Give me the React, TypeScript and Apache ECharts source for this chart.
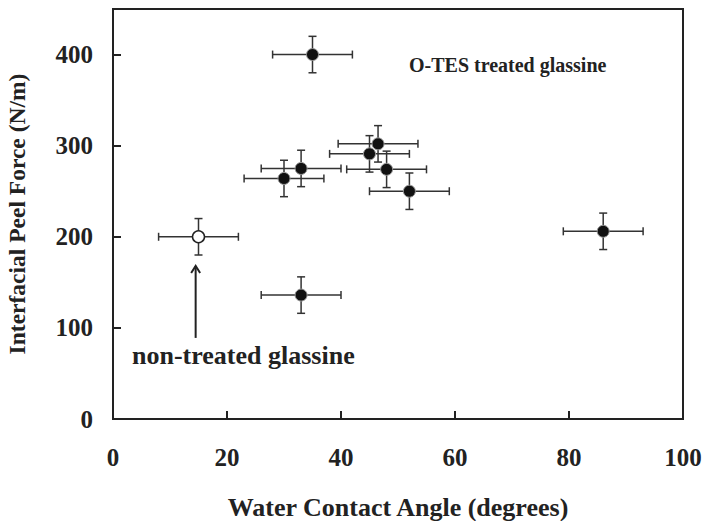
import React, { useEffect, useRef } from "react";
import * as echarts from "echarts";

const FONT = '"Liberation Serif", "Times New Roman", serif';

// O-TES treated glassine
const treatedAngle = [35, 46.5, 45, 48, 33, 30, 52, 86, 33];
const treatedForce = [400, 302, 291, 274, 275, 264, 250, 206, 136];
const treatedAngleErr = [7, 7, 7, 7, 7, 7, 7, 7, 7];
const treatedForceErr = [20, 20, 20, 20, 20, 20, 20, 20, 20];

// non-treated glassine
const plainAngle = [15];
const plainForce = [200];
const plainAngleErr = [7];
const plainForceErr = [20];

// annotation arrow (x, tip y, tail y) in data units
const arrowData = [[14.5, 168, 89]];

const xTicks = [0, 20, 40, 60, 80, 100];
const yTicks = [0, 100, 200, 300, 400];

export default function App() {
  const ref = useRef<HTMLDivElement>(null);
  useEffect(() => {
    if (!ref.current) return;
    const chart = echarts.init(ref.current, null, { renderer: "svg" });

    const errData = [
      ...treatedAngle.map((x, i) => [x, treatedForce[i], treatedAngleErr[i], treatedForceErr[i]]),
      ...plainAngle.map((x, i) => [x, plainForce[i], plainAngleErr[i], plainForceErr[i]]),
    ];

    const errStyle = { stroke: "#333", lineWidth: 1.5 };
    const cap = 4;

    chart.setOption({
      animation: false,
      backgroundColor: "#fff",
      grid: {
        left: 113,
        right: 21,
        top: 9,
        bottom: 102,
        show: true,
        borderColor: "#222",
        borderWidth: 2,
        backgroundColor: "transparent",
        outerBoundsMode: "none",
        containLabel: false,
      },
      xAxis: {
        type: "value",
        min: 0,
        max: 100,
        interval: 20,
        name: "Water Contact Angle (degrees)",
        nameLocation: "middle",
        nameGap: 75,
        nameTextStyle: { fontFamily: FONT, fontWeight: "bold", fontSize: 26, color: "#222" },
        axisLine: { show: true, lineStyle: { color: "#222", width: 2 } },
        axisTick: { show: true, inside: true, length: 8, lineStyle: { color: "#222", width: 2 } },
        axisLabel: {
          margin: 26,
          fontFamily: FONT,
          fontWeight: "bold",
          fontSize: 25,
          color: "#222",
          formatter: (v: number) => (xTicks.includes(v) ? String(v) : ""),
        },
        splitLine: { show: false },
      },
      yAxis: {
        type: "value",
        min: 0,
        max: 450,
        interval: 100,
        name: "Interfacial Peel Force (N/m)",
        nameLocation: "middle",
        nameGap: 84,
        nameTextStyle: { fontFamily: FONT, fontWeight: "bold", fontSize: 23.5, color: "#222" },
        axisLine: { show: true, lineStyle: { color: "#222", width: 2 } },
        axisTick: { show: true, inside: true, length: 8, lineStyle: { color: "#222", width: 2 } },
        axisLabel: {
          margin: 20,
          fontFamily: FONT,
          fontWeight: "bold",
          fontSize: 25,
          color: "#222",
          showMaxLabel: false,
          formatter: (v: number) => (yTicks.includes(v) ? String(v) : ""),
        },
        splitLine: { show: false },
      },
      series: [
        {
          type: "custom",
          name: "errors",
          z: 2,
          silent: true,
          data: errData,
          renderItem: (params: any, api: any) => {
            const x = api.value(0);
            const y = api.value(1);
            const ex = api.value(2);
            const ey = api.value(3);
            const l = api.coord([x - ex, y]);
            const r = api.coord([x + ex, y]);
            const t = api.coord([x, y + ey]);
            const b = api.coord([x, y - ey]);
            return {
              type: "group",
              children: [
                { type: "line", shape: { x1: l[0], y1: l[1], x2: r[0], y2: r[1] }, style: errStyle },
                { type: "line", shape: { x1: l[0], y1: l[1] - cap, x2: l[0], y2: l[1] + cap }, style: errStyle },
                { type: "line", shape: { x1: r[0], y1: r[1] - cap, x2: r[0], y2: r[1] + cap }, style: errStyle },
                { type: "line", shape: { x1: t[0], y1: t[1], x2: b[0], y2: b[1] }, style: errStyle },
                { type: "line", shape: { x1: t[0] - cap, y1: t[1], x2: t[0] + cap, y2: t[1] }, style: errStyle },
                { type: "line", shape: { x1: b[0] - cap, y1: b[1], x2: b[0] + cap, y2: b[1] }, style: errStyle },
              ],
            };
          },
        },
        {
          type: "scatter",
          name: "O-TES treated glassine",
          z: 5,
          symbol: "circle",
          symbolSize: 12,
          itemStyle: { color: "#111", borderColor: "#999", borderWidth: 1, opacity: 1 },
          data: treatedAngle.map((x, i) => [x, treatedForce[i]]),
        },
        {
          type: "scatter",
          name: "non-treated glassine",
          z: 5,
          symbol: "circle",
          symbolSize: 12,
          itemStyle: { color: "#fff", borderColor: "#222", borderWidth: 1.5, opacity: 1 },
          data: plainAngle.map((x, i) => [x, plainForce[i]]),
        },
        {
          type: "custom",
          name: "arrow",
          z: 3,
          silent: true,
          data: arrowData,
          renderItem: (params: any, api: any) => {
            const x = api.value(0);
            const tip = api.coord([x, api.value(1)]);
            const tail = api.coord([x, api.value(2)]);
            const st = { stroke: "#222", lineWidth: 2, fill: "none" };
            return {
              type: "group",
              children: [
                { type: "line", shape: { x1: tip[0], y1: tip[1], x2: tail[0], y2: tail[1] }, style: st },
                {
                  type: "polyline",
                  shape: { points: [[tip[0] - 4.5, tip[1] + 7], [tip[0], tip[1]], [tip[0] + 4.5, tip[1] + 7]] },
                  style: st,
                },
              ],
            };
          },
        },
      ],
      graphic: [
        {
          type: "text",
          left: 409,
          top: 55,
          style: {
            text: "O-TES treated glassine",
            fontFamily: FONT,
            fontWeight: "bold",
            fontSize: 20,
            fill: "#222",
          },
        },
        {
          type: "text",
          left: 132,
          top: 342,
          style: {
            text: "non-treated glassine",
            fontFamily: FONT,
            fontWeight: "bold",
            fontSize: 26,
            fill: "#222",
          },
        },
      ],
    });
    return () => chart.dispose();
  }, []);
  return <div ref={ref} style={{ width: 704, height: 521, position: "absolute", left: 0, top: 0 }} />;
}
